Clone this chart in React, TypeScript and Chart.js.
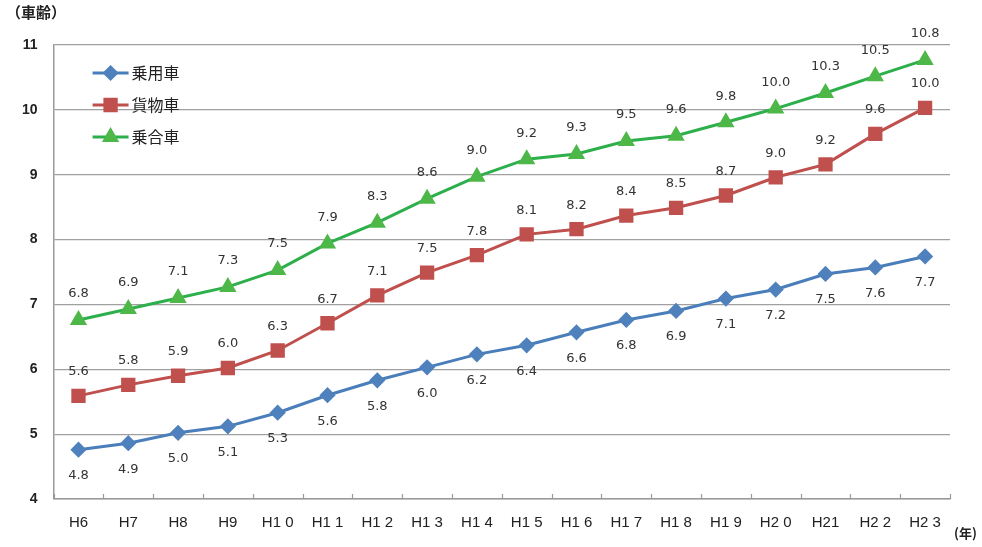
import React, { useEffect, useRef } from "react";
import { Chart, registerables } from "chart.js";
import { drawPoint } from "chart.js/helpers";

Chart.register(...registerables);

const categories = ["H6", "H7", "H8", "H9", "H1 0", "H1 1", "H1 2", "H1 3", "H1 4", "H1 5", "H1 6", "H1 7", "H1 8", "H1 9", "H2 0", "H21", "H2 2", "H2 3"];
const seriesNames = ["乗用車", "貨物車", "乗合車"];
const passengerCar = [4.76, 4.86, 5.02, 5.12, 5.33, 5.6, 5.83, 6.03, 6.23, 6.37, 6.57, 6.76, 6.9, 7.09, 7.23, 7.47, 7.57, 7.74];
const freightCar = [5.59, 5.76, 5.9, 6.02, 6.29, 6.71, 7.14, 7.49, 7.76, 8.08, 8.16, 8.37, 8.49, 8.68, 8.96, 9.16, 9.63, 10.03];
const busCar = [6.76, 6.93, 7.1, 7.27, 7.53, 7.94, 8.26, 8.63, 8.97, 9.24, 9.32, 9.52, 9.6, 9.81, 10.02, 10.26, 10.52, 10.77];
const yMin = 4;
const yMax = 11;
const yTitle = "（車齢）";
const xUnit = "(年)";

const labelOffsets = [26, -24, -26];

const dataLabelPlugin = {
  id: "dataLabels",
  afterDatasetsDraw(chart: any) {
    const ctx = chart.ctx;
    ctx.save();
    ctx.font = "13px 'DejaVu Sans', sans-serif";
    ctx.fillStyle = "#333";
    ctx.textAlign = "center";
    ctx.textBaseline = "middle";
    chart.data.datasets.forEach((ds: any, di: number) => {
      const meta = chart.getDatasetMeta(di);
      meta.data.forEach((pt: any, i: number) => {
        const v = ds.data[i] as number;
        ctx.fillText(v.toFixed(1), pt.x, pt.y + labelOffsets[di]);
      });
    });
    ctx.restore();
  },
};

const innerTicksPlugin = {
  id: "innerTicks",
  afterDatasetsDraw(chart: any) {
    const ctx = chart.ctx;
    const xs = chart.scales.x;
    const bottom = chart.chartArea.bottom;
    const n = chart.data.labels.length;
    const half = (xs.getPixelForValue(1) - xs.getPixelForValue(0)) / 2;
    ctx.save();
    ctx.strokeStyle = "#9a9a9a";
    ctx.lineWidth = 1.2;
    for (let i = 0; i <= n; i++) {
      const x = Math.round(xs.getPixelForValue(0) - half + i * 2 * half) + 0.5;
      ctx.beginPath();
      ctx.moveTo(x, bottom);
      ctx.lineTo(x, bottom - 5);
      ctx.stroke();
    }
    ctx.restore();
  },
};

const legendAndUnitPlugin = {
  id: "customLegend",
  afterDraw(chart: any) {
    const ctx = chart.ctx;
    const area = chart.chartArea;
    ctx.save();
    chart.data.datasets.forEach((ds: any, di: number) => {
      const y = area.top + 28 + di * 32;
      const x0 = area.left + 39;
      ctx.strokeStyle = ds.borderColor;
      ctx.lineWidth = 3;
      ctx.beginPath();
      ctx.moveTo(x0, y);
      ctx.lineTo(x0 + 36, y);
      ctx.stroke();
      ctx.fillStyle = ds.pointBackgroundColor;
      ctx.strokeStyle = ds.pointBackgroundColor;
      drawPoint(ctx, { pointStyle: ds.pointStyle, radius: ds.pointRadius, borderWidth: 1, rotation: 0 }, x0 + 18, y);
      ctx.fillStyle = "#222";
      ctx.font = "16px 'Noto Sans CJK JP', sans-serif";
      ctx.textAlign = "left";
      ctx.textBaseline = "middle";
      ctx.fillText(ds.label, x0 + 39, y);
    });
    ctx.fillStyle = "#222";
    ctx.font = "bold 13px 'Noto Sans CJK JP', sans-serif";
    ctx.textAlign = "left";
    ctx.textBaseline = "middle";
    ctx.fillText(xUnit, area.right + 4, area.bottom + 34);
    ctx.restore();
  },
};

export default function App() {
  const ref = useRef<HTMLCanvasElement | null>(null);
  useEffect(() => {
    if (!ref.current) return;
    const chart = new Chart(ref.current, {
      type: "line",
      data: {
        labels: categories,
        datasets: [
          {
            label: seriesNames[0],
            data: passengerCar,
            borderColor: "#4A7EBB",
            backgroundColor: "#4F81BD",
            pointBackgroundColor: "#4F81BD",
            pointBorderColor: "#4F81BD",
            pointStyle: "rectRot",
            pointRadius: 6,
            borderWidth: 3,
          },
          {
            label: seriesNames[1],
            data: freightCar,
            borderColor: "#C0504D",
            backgroundColor: "#C0504D",
            pointBackgroundColor: "#C0504D",
            pointBorderColor: "#C0504D",
            pointStyle: "rect",
            pointRadius: 8,
            borderWidth: 3,
          },
          {
            label: seriesNames[2],
            data: busCar,
            borderColor: "#2DAF4B",
            backgroundColor: "#4DB848",
            pointBackgroundColor: "#4DB848",
            pointBorderColor: "#4DB848",
            pointStyle: "triangle",
            pointRadius: 7,
            borderWidth: 3,
          },
        ] as any,
      },
      options: {
        responsive: false,
        animation: false,
        layout: { padding: { left: 6, right: 32, top: 0, bottom: 0 } },
        plugins: {
          legend: { display: false },
          tooltip: { enabled: false },
          title: {
            display: true,
            text: yTitle,
            align: "start",
            color: "#222",
            font: { family: "'Noto Sans CJK JP', sans-serif", size: 15, weight: "bold" },
            padding: { top: 3, bottom: 24 },
          },
        },
        scales: {
          x: {
            offset: true,
            grid: { display: true, drawOnChartArea: false, drawTicks: false },
            border: { display: true, color: "#9a9a9a", width: 1.5 },
            ticks: {
              padding: 15,
              color: "#222",
              maxRotation: 0,
              autoSkip: false,
              font: { family: "'Liberation Sans', sans-serif", size: 15 },
            },
          },
          y: {
            min: yMin,
            max: yMax,
            grid: { color: "#a0a0a0", lineWidth: 1.2, drawTicks: false },
            border: { display: true, color: "#9a9a9a", width: 1.5 },
            ticks: {
              stepSize: 1,
              padding: 16,
              color: "#222",
              font: { family: "'Liberation Sans', sans-serif", size: 14, weight: "bold" },
            },
          },
        },
      },
      plugins: [dataLabelPlugin, innerTicksPlugin, legendAndUnitPlugin],
    });
    return () => chart.destroy();
  }, []);
  return (
    <div style={{ position: "fixed", left: 0, top: 0, width: 982, height: 547, background: "#fff" }}>
      <canvas ref={ref} width={982} height={547} />
    </div>
  );
}
